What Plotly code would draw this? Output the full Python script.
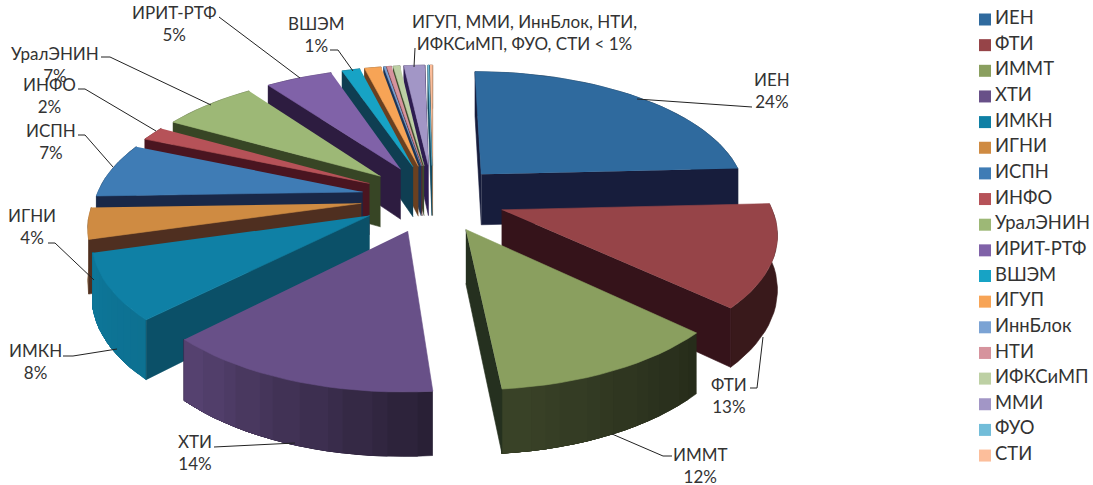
import numpy as np
import plotly.graph_objects as go

institutes = ["ИЕН", "ФТИ", "ИММТ", "ХТИ", "ИМКН", "ИГНИ", "ИСПН", "ИНФО", "УралЭНИН", "ИРИТ-РТФ",
              "ВШЭМ", "ИГУП", "ИннБлок", "НТИ", "ИФКСиМП", "ММИ", "ФУО", "СТИ"]
shares = [24.3, 12.8, 11.6, 13.9, 8.2, 3.9, 6.9, 1.8, 6.8, 4.8, 1.3, 1.2, 0.15, 0.35, 0.5, 1.5, 0.1, 0.2]
top_colors = ["#2f6a9e", "#964448", "#8a9f5f", "#685088", "#0f80a5", "#cf8b42", "#3f7cb5", "#b65258",
              "#9db876", "#8062a8", "#17a3c5", "#f7a456", "#7ba3d4", "#d6939d", "#bdd0a4", "#a296c6",
              "#72bdd9", "#fcbe9b"]
wall_colors = ["#171d3c", "#35131a", "#25301f", "#2c1c40", "#0b5068", "#4f2f20", "#192848", "#4a1520",
               "#374525", "#2d1c40", "#0f3e52", "#6a4020", "#1d3558", "#5a2a30", "#3e4a2c", "#2d1c50",
               "#124a60", "#806040"]
rim_from = [.35, .38, .28, .40, .88, .55, .4, .4, .4, .4, .4, .4, .4, .4, .4, .4, .4, .4]
rim_to = [.35, .38, .42, .82, .93, .55, .4, .4, .4, .4, .4, .4, .4, .4, .4, .4, .4, .4]
labels = [
    ("ИЕН<br>24%", 772, 90), ("ФТИ<br>13%", 729, 395), ("ИММТ<br>12%", 700, 465), ("ХТИ<br>14%", 195, 452),
    ("ИМКН<br>8%", 35, 361), ("ИГНИ<br>4%", 32, 226), ("ИСПН<br>7%", 51, 141), ("ИНФО<br>2%", 49, 95),
    ("УралЭНИН<br>7%", 55, 64), ("ИРИТ-РТФ<br>5%", 174, 23), ("ВШЭМ<br>1%", 316, 34),
    ("ИГУП, ММИ, ИннБлок, НТИ,<br>ИФКСиМП, ФУО, СТИ &lt; 1%", 524, 32),
]
leaders = [
    [(637, 99), (752, 107)], [(763, 337), (757, 388), (750, 388)], [(612, 434), (663, 456), (672, 456)],
    [(295, 443), (214, 447)], [(63, 356), (73, 356), (117, 349)], [(48, 243), (55, 243), (94, 280)],
    [(78, 135), (85, 135), (113, 167)], [(78, 89), (85, 89), (156, 131)], [(101, 57), (110, 57), (211, 105)],
    [(219, 17), (300, 78)], [(330, 50), (338, 50), (353, 71)], [(415, 48), (414, 67)],
]

CX, CY, A, B, Q, EXPL, DEPTH = 433, 198, 266.8, 125, 0.153, 0.27, 52


def project(u, v, low=0.0):
    s = 1 / (1 - Q * v)
    return CX + A * u * s, CY + (B * v + low * DEPTH) * s


def disk(theta, ox=0.0, oy=0.0, r=1.0):
    return ox + r * np.sin(theta), oy - r * np.cos(theta)


def mix(hex_color, f):
    return "rgb(%d,%d,%d)" % tuple(int(hex_color[i:i + 2], 16) * f for i in (1, 3, 5))


def poly(xs, ys, color, name):
    return go.Scatter(x=xs, y=ys, mode="lines", fill="toself", fillcolor=color, name=name,
                      line=dict(color=color, width=0.6), showlegend=False, hoverinfo="name")


fracs = np.array(shares) / sum(shares)
edges = np.concatenate([[0], np.cumsum(fracs)]) * 2 * np.pi
mids = (edges[:-1] + edges[1:]) / 2
ox = EXPL * np.sin(mids)
oy = -EXPL * np.cos(mids)
depth_key = oy + 0.6 * (-np.cos(mids))

fig = go.Figure()
for i in np.argsort(depth_key):
    t0, t1 = edges[i], edges[i + 1]
    name = institutes[i]
    n = max(2, int(np.degrees(t1 - t0) / 2.5) + 1)
    ts = np.linspace(t0, t1, n)
    # rim: each band runs on to the far end and the next band paints over it, so no seams show
    bands = 1 if rim_from[i] == rim_to[i] else 12
    for k in range(bands):
        f = rim_from[i] + (rim_to[i] - rim_from[i]) * k / max(1, bands - 1)
        part = ts[min(int((n - 1) * k / bands), n - 2):]
        us, vs = disk(part, ox[i], oy[i])
        tx, ty = project(us, vs)
        bx, by = project(us, vs, 1)
        fig.add_trace(poly(list(tx) + list(bx[::-1]), list(ty) + list(by[::-1]),
                           mix(top_colors[i], f), name))
    # radial walls that face the viewer
    for t, facing in ((t0, -np.sin(t0)), (t1, np.sin(t1))):
        if facing < -0.02:
            continue
        u, v = disk(t, ox[i], oy[i])
        corners = [(ox[i], oy[i], 0), (u, v, 0), (u, v, 1), (ox[i], oy[i], 1)]
        pts = [project(*c) for c in corners]
        fig.add_trace(poly([p[0] for p in pts], [p[1] for p in pts], wall_colors[i], name))
    # top face
    us, vs = disk(ts, ox[i], oy[i])
    xs, ys = project(np.concatenate([[ox[i]], us]), np.concatenate([[oy[i]], vs]))
    fig.add_trace(poly(list(xs), list(ys), top_colors[i], name))

# legend column, drawn beside the pie
rows = [19.5 + 25.65 * k for k in range(len(institutes))]
fig.add_trace(go.Scatter(
    x=[985] * len(institutes), y=rows, mode="markers",
    marker=dict(symbol="square", size=12, color=top_colors), showlegend=False, hoverinfo="skip"))
fig.add_trace(go.Scatter(
    x=[995] * len(institutes), y=rows, mode="text", text=institutes, textposition="middle right",
    textfont=dict(family="Lato, Noto Sans", size=18.4, color="#333333"), showlegend=False, hoverinfo="text"))

shapes = []
for pts in leaders:
    path = "M " + " L ".join(f"{x} {y}" for x, y in pts)
    shapes.append(dict(type="path", path=path, line=dict(color="#222222", width=1)))

annotations = [dict(x=x, y=y, text=t, showarrow=False, xanchor="center", yanchor="middle",
                    font=dict(family="Lato, Noto Sans", size=17, color="#333333"))
               for t, x, y in labels]

fig.update_layout(
    width=1093, height=485, margin=dict(l=0, r=0, t=0, b=0), showlegend=False,
    paper_bgcolor="white", plot_bgcolor="white", shapes=shapes, annotations=annotations,
    xaxis=dict(range=[0, 1093], visible=False, fixedrange=True),
    yaxis=dict(range=[485, 0], visible=False, fixedrange=True),
)
fig.write_html("out.html", post_script="document.body.style.margin='0';", config=dict(displayModeBar=False))
